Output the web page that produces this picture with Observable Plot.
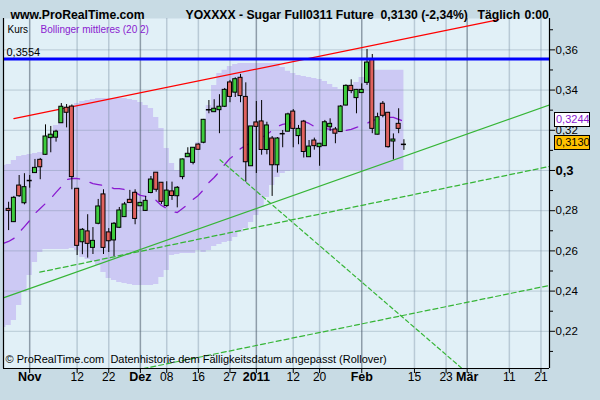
<!DOCTYPE html>
<html>
<head>
<meta charset="utf-8">
<script src="https://cdn.jsdelivr.net/npm/d3@7"></script>
<script src="https://cdn.jsdelivr.net/npm/@observablehq/plot@0.6"></script>
<style>
  html, body { margin: 0; padding: 0; background: #c8dbe4; }
  #chart svg { display: block; }
</style>
</head>
<body>
<div id="chart"></div>
<script>
// ---- Trading calendar (weekdays minus exchange holidays) ----
const holidays = ["2010-11-25", "2010-12-24", "2011-01-17"];
function tradingCalendar(from, to) {
  const out = [];
  const end = new Date(to + "T00:00:00Z");
  for (let d = new Date(from + "T00:00:00Z"); d <= end; d.setUTCDate(d.getUTCDate() + 1)) {
    const s = d.toISOString().slice(0, 10);
    const wd = d.getUTCDay();
    if (wd !== 0 && wd !== 6 && !holidays.includes(s)) out.push(s);
  }
  return out;
}
const calendar = tradingCalendar("2010-10-01", "2011-03-31");
const dayIndex = s => calendar.indexOf(s) - calendar.indexOf("2010-11-01");

// ---- Daily candles, Sugar Full0311 Future, from 2010-10-26 ----
const firstCandle = "2010-10-26";
const open = [0.2809,0.2743,0.2925,0.2837,0.2948,0.2987,0.3053,0.3078,0.3161,0.3163,
  0.3235,0.3312,0.3318,0.2909,0.2643,0.2697,0.2615,0.2735,0.2881,0.2692,
  0.2652,0.2715,0.2768,0.2854,0.2889,0.2822,0.2799,0.2888,0.2989,0.2939,
  0.2823,0.2896,0.2872,0.2967,0.3066,0.3038,0.3129,0.3138,0.3301,0.3290,
  0.3300,0.3317,0.3438,0.3387,0.3461,0.3366,0.3021,0.3239,0.3244,0.3102,
  0.3159,0.3026,0.3182,0.3193,0.3293,0.3171,0.3243,0.3066,0.3149,0.3116,
  0.3121,0.3215,0.3204,0.3191,0.3323,0.3421,0.3360,0.3385,0.3436,0.3552,
  0.3178,0.3332,0.3287,0.3144,0.3232,0.3130];
const high = [0.2842,0.2871,0.2975,0.2984,0.2975,0.3055,0.3060,0.3227,0.3219,0.3200,
  0.3333,0.3328,0.3326,0.2910,0.2711,0.2780,0.2716,0.2856,0.2904,0.2711,
  0.2741,0.2816,0.2841,0.2901,0.2904,0.2841,0.2871,0.2970,0.2990,0.2940,
  0.2944,0.2942,0.2920,0.3057,0.3113,0.3114,0.3132,0.3254,0.3348,0.3352,
  0.3377,0.3408,0.3448,0.3461,0.3478,0.3436,0.3219,0.3343,0.3348,0.3240,
  0.3169,0.3164,0.3199,0.3285,0.3303,0.3224,0.3249,0.3149,0.3161,0.3134,
  0.3249,0.3257,0.3214,0.3323,0.3426,0.3451,0.3403,0.3431,0.3602,0.3577,
  0.3285,0.3343,0.3289,0.3182,0.3307,0.3153];
const low = [0.2701,0.2741,0.2866,0.2829,0.2912,0.2985,0.2954,0.3075,0.3088,0.3141,
  0.3234,0.3212,0.2904,0.2577,0.2581,0.2564,0.2582,0.2730,0.2582,0.2592,
  0.2572,0.2711,0.2766,0.2836,0.2730,0.2821,0.2796,0.2884,0.2892,0.2831,
  0.2817,0.2851,0.2814,0.2954,0.3065,0.3028,0.3102,0.3133,0.3282,0.3290,
  0.3183,0.3313,0.3337,0.3363,0.3337,0.2942,0.3020,0.2985,0.3076,0.3078,
  0.2871,0.2987,0.3113,0.3192,0.3113,0.3128,0.3062,0.3065,0.3101,0.3021,
  0.3119,0.3194,0.3133,0.3189,0.3321,0.3382,0.3282,0.3383,0.3423,0.3183,
  0.3177,0.3262,0.3111,0.3053,0.3183,0.3100];
const close = [0.2799,0.2864,0.2872,0.2917,0.2950,0.3013,0.3016,0.3169,0.3178,0.3193,
  0.3317,0.3287,0.2967,0.2625,0.2705,0.2635,0.2650,0.2821,0.2615,0.2648,
  0.2735,0.2801,0.2831,0.2838,0.2759,0.2839,0.2849,0.2955,0.2904,0.2844,
  0.2900,0.2873,0.2914,0.3055,0.3083,0.3113,0.3103,0.3252,0.3302,0.3307,
  0.3317,0.3401,0.3366,0.3454,0.3370,0.3041,0.3219,0.3217,0.3102,0.3224,
  0.3026,0.3159,0.3183,0.3279,0.3207,0.3207,0.3092,0.3119,0.3121,0.3133,
  0.3240,0.3232,0.3183,0.3318,0.3421,0.3395,0.3401,0.3401,0.3537,0.3207,
  0.3265,0.3272,0.3116,0.3154,0.3207,0.3130];

// ---- Bollinger (20, 2), from 2010-10-25 ----
const firstBand = "2010-10-25";
const bbUpper = [0.3025,0.3030,0.3050,0.3070,0.3075,0.3080,0.3085,0.3090,0.3100,0.3159,0.3224,
  0.3259,0.3299,0.3318,0.3333,0.3343,0.3348,0.3353,0.3358,0.3358,0.3358,
  0.3358,0.3358,0.3358,0.3353,0.3348,0.3338,0.3323,0.3308,0.3264,0.3209,
  0.3109,0.3035,0.3000,0.3050,0.3085,0.3109,0.3139,0.3199,0.3323,0.3423,
  0.3483,0.3498,0.3517,0.3527,0.3532,0.3532,0.3532,0.3532,0.3532,0.3532,
  0.3532,0.3532,0.3512,0.3493,0.3483,0.3473,0.3468,0.3463,0.3458,0.3453,
  0.3443,0.3428,0.3413,0.3403,0.3398,0.3408,0.3438,0.3463,0.3488,0.3498,
  0.3498,0.3498,0.3498,0.3498,0.3498,0.3498];
const bbMiddle = [0.2637,0.2647,0.2662,0.2692,0.2721,0.2751,0.2786,0.2811,0.2836,0.2861,0.2891,
  0.2920,0.2955,0.2960,0.2960,0.2955,0.2945,0.2935,0.2930,0.2925,0.2920,
  0.2910,0.2910,0.2905,0.2900,0.2891,0.2876,0.2871,0.2866,0.2851,0.2826,
  0.2811,0.2796,0.2791,0.2811,0.2831,0.2856,0.2876,0.2905,0.2940,0.2965,
  0.2995,0.3030,0.3060,0.3080,0.3109,0.3124,0.3139,0.3154,0.3164,0.3179,
  0.3199,0.3219,0.3229,0.3234,0.3239,0.3244,0.3244,0.3234,0.3219,0.3214,
  0.3209,0.3204,0.3199,0.3194,0.3199,0.3204,0.3214,0.3224,0.3234,0.3249,
  0.3254,0.3259,0.3264,0.3264,0.3254,0.3244];
const bbLower = [0.2219,0.2229,0.2254,0.2328,0.2393,0.2478,0.2542,0.2592,0.2607,0.2607,0.2607,
  0.2607,0.2607,0.2612,0.2602,0.2567,0.2557,0.2547,0.2527,0.2493,0.2463,
  0.2453,0.2443,0.2438,0.2433,0.2428,0.2428,0.2428,0.2428,0.2433,0.2468,
  0.2502,0.2577,0.2582,0.2587,0.2587,0.2587,0.2602,0.2592,0.2602,0.2622,
  0.2632,0.2642,0.2647,0.2667,0.2692,0.2711,0.2741,0.2776,0.2816,0.2866,
  0.2925,0.2965,0.2985,0.2995,0.3000,0.3000,0.3000,0.3000,0.3000,0.3000,
  0.3000,0.3000,0.3000,0.3000,0.3000,0.3000,0.3000,0.3000,0.3000,0.3000,
  0.3000,0.3000,0.3000,0.3000,0.3000,0.3000];

// ---- Drawn trend lines: [trading-day offset from 2010-11-01, price] ----
const resistanceLine = [[-3, 0.3258], [89, 0.3750]];
const supportLine = [[-5, 0.2366], [99, 0.3330]];
const channelUpper = [[1.9, 0.2494], [98.6, 0.3020]];
const channelLower = [[20, 0.2006], [98.6, 0.2428]];
const fallingLine = [[36.1, 0.3053], [81.9, 0.2018]];
const highLevel = 0.3554;
const lastPrice = 0.3130;
const changePct = -2.34;
const lastMiddle = 0.3244;

// ---- Axis ticks ----
const tickDates = ["2010-11-01","2010-11-12","2010-11-22","2010-12-01","2010-12-08","2010-12-16","2010-12-27",
  "2011-01-03","2011-01-12","2011-01-20","2011-02-01","2011-02-15","2011-02-23","2011-03-01","2011-03-11","2011-03-21"];
const tickLabels = ["Nov","12","22","Dez","08","16","27","2011","12","20","Feb","15","23","Mär","11","21"];
const monthStarts = ["2010-11-01","2010-12-01","2011-01-03","2011-02-01","2011-03-01"];
const yMajor = [0.22, 0.24, 0.26, 0.28, 0.30, 0.32, 0.34, 0.36];
const yMinor = [0.21, 0.23, 0.25, 0.27, 0.29, 0.31, 0.33, 0.35, 0.37];

// ---- Tables ----
const c0 = calendar.indexOf(firstCandle);
const candles = open.map((o, k) => ({
  i: dayIndex(calendar[c0 + k]), open: o, high: high[k], low: low[k], close: close[k]
}));
const b0 = calendar.indexOf(firstBand);
const bands = bbUpper.map((u, k) => ({
  i: dayIndex(calendar[b0 + k]), upper: u, middle: bbMiddle[k], lower: bbLower[k]
}));
const ticks = tickDates.map((d, k) => ({i: dayIndex(d), label: tickLabels[k], bold: monthStarts.includes(d)}));

const isDoji = d => Math.abs(d.open - d.close) < 0.0004;
const ups = candles.filter(d => !isDoji(d) && d.close > d.open);
const downs = candles.filter(d => !isDoji(d) && d.close < d.open);
const dojis = candles.filter(isDoji);

const fmtDe = (v, n) => v.toFixed(n).replace(".", ",");
const fmtAxis = v => String(+v.toFixed(2)).replace(".", ",");

const xDomain = [-4.97, 98.62];
const yDomain = [0.2015, 0.3756];

const GREEN = "#3dcc3d", RED = "#e0625e", BAND = "#ccc9f4", PURPLE = "#8a1ad0", TREND = "#36b536";
const gridLight = "rgba(115,135,155,0.36)", gridDark = "rgba(75,90,105,0.55)";
const FONT = "'Liberation Sans', Arial, sans-serif";

// value tag in the right margin, placed through the y scale
function priceTag(value, label, fill, color) {
  return (index, scales, values, dims) => {
    const y = scales.y(value);
    const x = dims.width - dims.marginRight + 5;
    const g = d3.create("svg:g");
    g.append("rect").attr("x", x + 0.5).attr("y", Math.round(y - 9) + 0.5)
      .attr("width", 35).attr("height", 14).attr("fill", fill).attr("stroke", "black");
    g.append("text").attr("x", x + 2).attr("y", y - 2).attr("dy", "0.35em")
      .attr("text-anchor", "start")
      .attr("fill", color).attr("font-size", 11).attr("font-family", FONT).text(label);
    return g.node();
  };
}

const header = {frameAnchor: "top-left", dy: -8, textAnchor: "start", fontSize: 12.2, fontWeight: "bold"};

const chart = Plot.plot({
  width: 600,
  height: 400,
  marginLeft: 3,
  marginRight: 51,
  marginTop: 18,
  marginBottom: 32,
  x: {domain: xDomain},
  y: {domain: yDomain},
  style: {background: "#c8dbe4", fontFamily: FONT, color: "black", overflow: "visible"},
  marks: [
    Plot.frame({fill: "#e1f0f7", stroke: null}),
    // Bollinger band
    Plot.areaY(bands, {x: "i", y1: "lower", y2: "upper", curve: "step", fill: BAND, clip: true}),
    // grid
    Plot.ruleY(yMajor, {stroke: gridLight}),
    Plot.ruleX(ticks.filter(t => !t.bold), {x: "i", stroke: gridLight, strokeWidth: 1.5}),
    Plot.ruleX(ticks.filter(t => t.bold), {x: "i", stroke: gridDark, strokeWidth: 1.5}),
    // Bollinger middle line
    Plot.line(bands, {x: "i", y: "middle", stroke: PURPLE, strokeWidth: 1.3, strokeDasharray: "12,11", clip: true}),
    // trend lines
    Plot.line(supportLine, {stroke: TREND, strokeWidth: 1.2, clip: true}),
    Plot.line(channelUpper, {stroke: TREND, strokeWidth: 1.2, strokeDasharray: "5,3", clip: true}),
    Plot.line(channelLower, {stroke: TREND, strokeWidth: 1.2, strokeDasharray: "5,3", clip: true}),
    Plot.line(fallingLine, {stroke: TREND, strokeWidth: 1.2, strokeDasharray: "4,3", clip: true}),
    Plot.line(resistanceLine, {stroke: "#ff0000", strokeWidth: 1.2, clip: true}),
    // candles
    Plot.ruleX(candles, {x: "i", y1: "low", y2: "high", stroke: "black", strokeWidth: 1}),
    Plot.rect(ups, {x1: d => d.i - 0.38, x2: d => d.i + 0.38, y1: "open", y2: "close", fill: GREEN, stroke: "black", strokeWidth: 1}),
    Plot.rect(downs, {x1: d => d.i - 0.38, x2: d => d.i + 0.38, y1: "open", y2: "close", fill: RED, stroke: "black", strokeWidth: 1}),
    Plot.ruleY(dojis, {y: "close", x1: d => d.i - 0.48, x2: d => d.i + 0.48, stroke: "black", strokeWidth: 1.5}),
    // horizontal level
    Plot.ruleY([highLevel], {stroke: "#0000ff", strokeWidth: 3}),
    Plot.text([highLevel], {y: d => d, text: d => fmtDe(d, 4), frameAnchor: "left", dx: 3, dy: -7, textAnchor: "start", fontSize: 11}),
    // axis lines and ticks
    Plot.ruleX([xDomain[0], xDomain[1]], {stroke: "black", strokeWidth: 1.2}),
    Plot.ruleY([yDomain[0]], {stroke: "black", strokeWidth: 1.2}),
    Plot.axisY({anchor: "right", ticks: yMajor, tickSize: 5, tickFormat: () => "", label: null, stroke: "black"}),
    Plot.axisY({anchor: "right", ticks: yMinor, tickSize: 3, tickFormat: () => "", label: null, stroke: "black"}),
    Plot.axisX({anchor: "bottom", ticks: ticks.map(t => t.i), tickSize: 5, tickFormat: () => "", label: null, stroke: "black"}),
    // axis labels
    Plot.text(yMajor.filter(v => v !== 0.30), {y: d => d, text: fmtAxis, frameAnchor: "right", dx: 6, textAnchor: "start", fontSize: 11.5}),
    Plot.text([0.30], {y: d => d, text: fmtAxis, frameAnchor: "right", dx: 6, textAnchor: "start", fontSize: 13, fontWeight: "bold"}),
    Plot.text(ticks.filter(t => !t.bold), {x: "i", text: "label", frameAnchor: "bottom", dy: 12, fontSize: 12}),
    Plot.text(ticks.filter(t => t.bold), {x: "i", text: "label", frameAnchor: "bottom", dy: 12, fontSize: 12.5, fontWeight: "bold"}),
    // value tags
    priceTag(lastMiddle, fmtDe(lastMiddle, 4), "#ffffff", PURPLE),
    priceTag(lastPrice, fmtDe(lastPrice, 4), "#ffc000", "black"),
    // header
    Plot.text(["www.ProRealTime.com"], {...header, text: d => d, dx: 7}),
    Plot.text(["YOXXXX - Sugar Full0311 Future"], {...header, text: d => d, dx: 182}),
    Plot.text([lastPrice], {...header, text: d => `${fmtDe(d, 4)} (${fmtDe(changePct, 2)}%)`, dx: 377}),
    Plot.text(["Täglich"], {...header, text: d => d, dx: 474}),
    Plot.text(["0:00"], {...header, text: d => d, dx: 521}),
    // legend inside the panel
    Plot.text(["Kurs"], {text: d => d, frameAnchor: "top-left", dx: 4, dy: 7, textAnchor: "start", fontSize: 10}),
    Plot.text(["Bollinger mittleres (20 2)"], {text: d => d, frameAnchor: "top-left", dx: 37, dy: 7, textAnchor: "start", fontSize: 10, fill: PURPLE}),
    // footer note
    Plot.text(["© ProRealTime.com\u00a0\u00a0Datenhistorie dem Fälligkeitsdatum angepasst (Rollover)"],
      {text: d => d, frameAnchor: "bottom-left", dx: 2, dy: -6, textAnchor: "start", fontSize: 11})
  ]
});

document.getElementById("chart").appendChild(chart);
</script>
</body>
</html>
